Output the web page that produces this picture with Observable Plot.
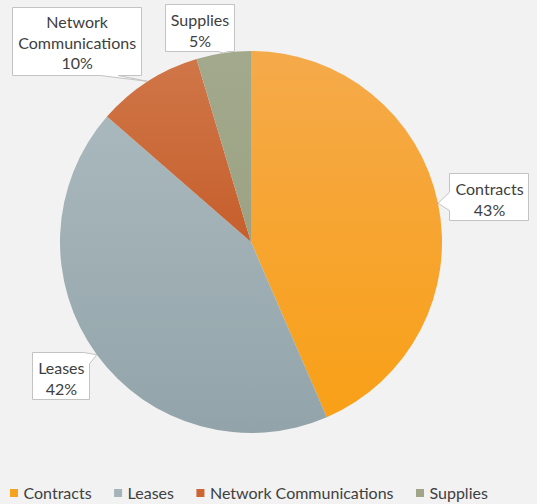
<!DOCTYPE html>
<html><head><meta charset="utf-8">
<script src="https://cdn.jsdelivr.net/npm/d3@7"></script>
<script src="https://cdn.jsdelivr.net/npm/@observablehq/plot@0.6"></script>
<style>html,body{margin:0;padding:0;background:#f2f2f2;overflow:hidden;}</style>
</head><body><div id="chart"></div>
<script>
// ---- data ----
const categories = ["Contracts", "Leases", "Network Communications", "Supplies"];
const values = [43.5, 42.9, 9.0, 4.6];
const percentLabels = ["43%", "42%", "10%", "5%"];
const nameLines = [["Contracts"], ["Leases"], ["Network", "Communications"], ["Supplies"]];

// ---- styles / layout ----
const baseColors = ["#f7a21e", "#a5b4ba", "#cc6532", "#9fa586"];
const topColors = ["#f5aa4a", "#a9b8bd", "#d07648", "#a3a98c"];
const bottomColors = ["#f9a017", "#92a4aa", "#c65f2c", "#9ca283"];
const FONT = "Lato, 'Open Sans', sans-serif";
const FS = 16;
const LH = 20.5;
const W = 537, H = 504;
const pieGeom = {cx: 251, cy: 242, r: 191};
const labelOffset = [[51, -6.5], [-36, 21], [-71, -41], [-24, -25]];
const wedgeBase = [[3.21, 3.6], [0.9, 1.24], [2.18, 2.32], [2.09, 2.24]];
const legendLayout = {x0: 10, y: 493.5, sw: 8, gapText: 5, gapItem: 23};

const ctx = document.createElement("canvas").getContext("2d");
ctx.font = `${FS}px ${FONT}`;
const tw = s => ctx.measureText(s).width;

const rows = categories.map((c, i) => ({cat: c, value: values[i], i}));
const arcs = d3.pie().sort(null).value(d => d.value).startAngle(0).endAngle(2 * Math.PI)(rows);
const arcGen = d3.arc().innerRadius(0).outerRadius(pieGeom.r);

const labelRows = arcs.map((a, i) => {
  const m = (a.startAngle + a.endAngle) / 2;
  const tip = [pieGeom.cx + pieGeom.r * Math.sin(m), pieGeom.cy - pieGeom.r * Math.cos(m)];
  const lines = nameLines[i].concat([percentLabels[i]]);
  const w = Math.max(...lines.map(tw)) + 11;
  const h = lines.length * LH + 6;
  return {cat: categories[i], text: lines.join("\n"), tip,
    x: tip[0] + labelOffset[i][0], y: tip[1] + labelOffset[i][1], w, h, i};
});

let lx = legendLayout.x0;
const legendRows = categories.map((c, i) => {
  const r = {cat: c, sx: lx, tx: lx + legendLayout.sw + legendLayout.gapText};
  lx = r.tx + tw(c) + legendLayout.gapItem;
  return r;
});

function pieMark(index, scales) {
  const X = v => scales.x ? scales.x(v) : v, Y = v => scales.y ? scales.y(v) : v;
  const g = d3.create("svg:g");
  const defs = g.append("defs");
  arcs.forEach((a, i) => {
    const lg = defs.append("linearGradient").attr("id", "grad" + i)
      .attr("x1", 0).attr("y1", 0).attr("x2", 0).attr("y2", 1);
    lg.append("stop").attr("offset", 0).attr("stop-color", topColors[i]);
    lg.append("stop").attr("offset", 1).attr("stop-color", bottomColors[i]);
  });
  g.append("g").attr("transform", `translate(${X(pieGeom.cx)},${Y(pieGeom.cy)})`)
    .selectAll("path").data(arcs).join("path")
    .attr("d", arcGen).attr("fill", (d, i) => `url(#grad${i})`);
  return g.node();
}

function calloutMark(index, scales) {
  const X = v => scales.x ? scales.x(v) : v, Y = v => scales.y ? scales.y(v) : v;
  const g = d3.create("svg:g");
  labelRows.forEach((d, i) => {
    const x0 = Math.round(X(d.x) - d.w / 2) + 0.5, y0 = Math.round(Y(d.y) - d.h / 2) + 0.5;
    const x1 = x0 + Math.round(d.w), y1 = y0 + Math.round(d.h);
    const bw = x1 - x0, bh = y1 - y0;
    const perim = s => {
      const side = Math.floor(s) % 4, t = s - Math.floor(s);
      if (side === 0) return [x0 + t * bw, y0];
      if (side === 1) return [x1, y0 + t * bh];
      if (side === 2) return [x1 - t * bw, y1];
      return [x0, y1 - t * bh];
    };
    const [s1, s2] = wedgeBase[i];
    const pts = [perim(s2)];
    for (let k = Math.floor(s2) + 1; k < s1 + 4; k++) pts.push(perim(k));
    pts.push(perim(s1));
    pts.push([X(d.tip[0]), Y(d.tip[1])]);
    g.append("path").attr("d", "M" + pts.map(p => p.join(",")).join("L") + "Z")
      .attr("fill", "#ffffff").attr("stroke", "#c3c3c3").attr("stroke-width", 1)
      .attr("stroke-linejoin", "miter");
  });
  return g.node();
}

const chart = Plot.plot({
  width: W, height: H, margin: 0,
  x: {type: "identity", axis: null},
  y: {type: "identity", axis: null},
  color: {domain: categories, range: baseColors},
  style: {background: "#f2f2f2", fontFamily: FONT, fontSize: FS + "px", overflow: "visible"},
  marks: [
    pieMark,
    calloutMark,
    Plot.text(labelRows, {x: "x", y: "y", text: "text", fontSize: FS, lineHeight: LH / FS,
      fill: "#404040", textAnchor: "middle", dy: 1.5}),
    Plot.rect(legendRows, {x1: "sx", x2: d => d.sx + legendLayout.sw,
      y1: legendLayout.y - 4.5, y2: legendLayout.y + 3.5, fill: "cat"}),
    Plot.text(legendRows, {x: "tx", y: legendLayout.y, text: "cat", textAnchor: "start",
      fontSize: FS, fill: "#404040"})
  ]
});
document.getElementById("chart").appendChild(chart);
</script>
</body></html>
